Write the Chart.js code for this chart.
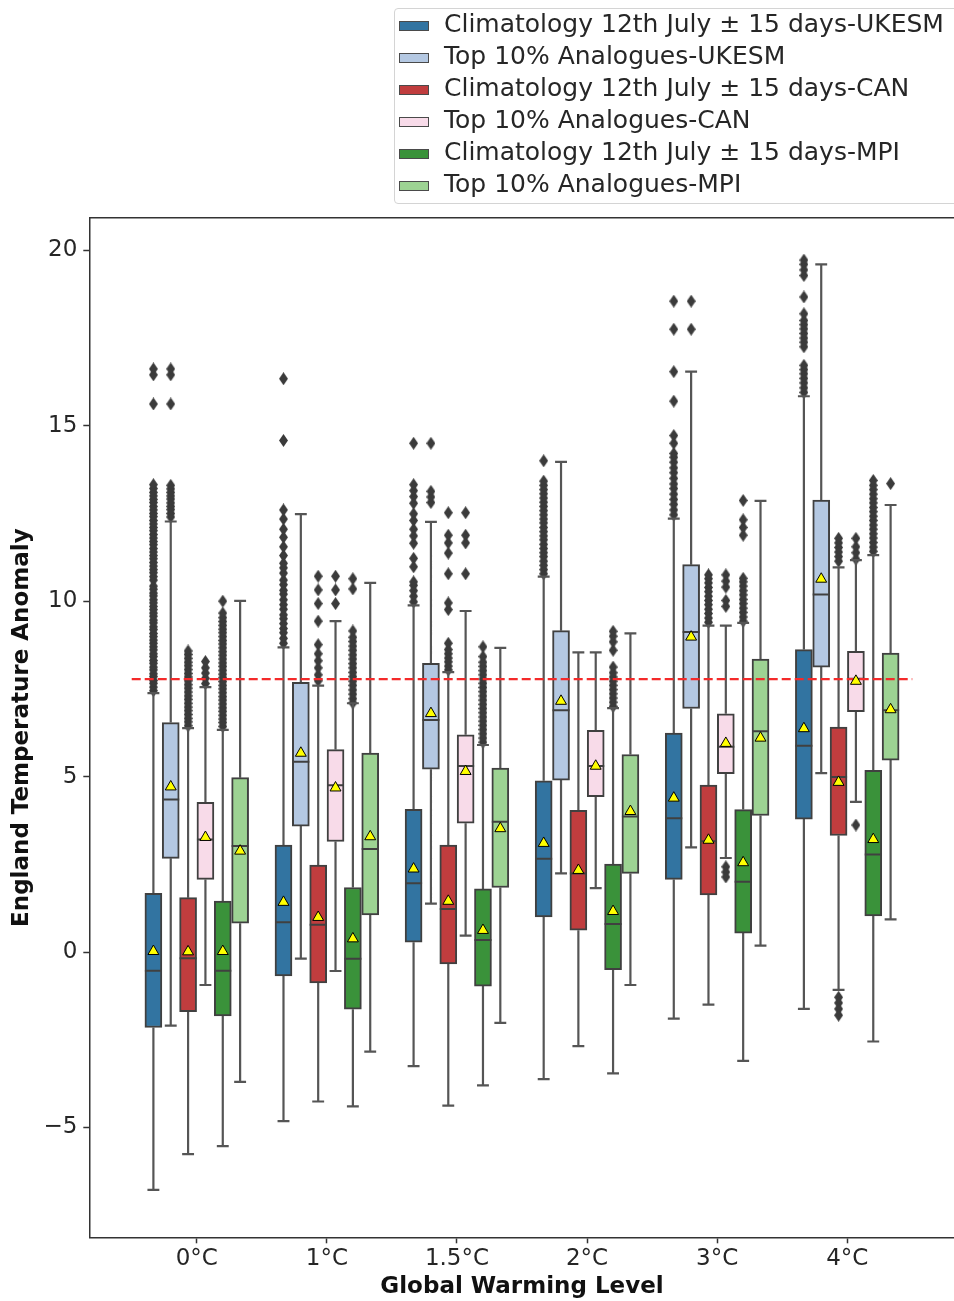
<!DOCTYPE html>
<html>
<head>
<meta charset="utf-8">
<script src="https://cdn.jsdelivr.net/npm/chart.js@4.4.1/dist/chart.umd.min.js"></script>
<style>
html, body { margin: 0; padding: 0; background: #fff; overflow: hidden; }
#wrap { position: relative; width: 962px; height: 1301px; }
#legend { position: absolute; left: 394px; top: 8px; width: 580px; height: 196px; box-sizing: border-box;
  border: 1px solid #d4d4d4; border-radius: 4px; background: #fff;
  font-family: "DejaVu Sans"; font-size: 25px; color: #262626; }
.row { position: absolute; left: 0; height: 32px; line-height: 32px; white-space: nowrap; }
.patch { position: absolute; left: 4px; top: 13px; width: 30px; height: 10px; box-sizing: border-box; border: 1px solid #4a4a4a; }
.lab { position: absolute; left: 49px; top: 0; }
</style>
</head>
<body>
<div id="wrap">
  <canvas id="chart" width="962" height="1301"></canvas>
  <div id="legend"></div>
</div>
<script>
// categories and series
var groups = ['0°C', '1°C', '1.5°C', '2°C', '3°C', '4°C'];
var seriesNames = [
    'Climatology 12th July \u00b1 15 days-UKESM',
    'Top 10% Analogues-UKESM',
    'Climatology 12th July \u00b1 15 days-CAN',
    'Top 10% Analogues-CAN',
    'Climatology 12th July \u00b1 15 days-MPI',
    'Top 10% Analogues-MPI'
];
var seriesColors = ['#3274a1', '#b4c8e2', '#c03d3e', '#f8dbe9', '#3a923a', '#9dd393'];
var yTicks = [-5, 0, 5, 10, 15, 20];
var threshold = 7.78;

// box stats, one row per series, one value per warming level
var whiskerLow = [
    [-6.78, -4.82, -3.25, -3.62, -1.90, -1.62],
    [-2.10, -0.19, 1.38, 2.24, 2.98, 5.10],
    [-5.76, -4.26, -4.38, -2.68, -1.50, -1.08],
    [-0.94, -0.54, 0.47, 1.82, 2.68, 4.28],
    [-5.53, -4.40, -3.80, -3.46, -3.10, -2.55],
    [-3.70, -2.84, -2.02, -0.94, 0.18, 0.93]
];
var q1 = [
    [-2.15, -0.68, 0.28, 1.00, 2.07, 3.79],
    [2.67, 3.59, 5.21, 4.90, 6.94, 8.12],
    [-1.70, -0.88, -0.34, 0.62, 1.63, 3.32],
    [2.07, 3.15, 3.67, 4.43, 5.08, 6.85],
    [-1.82, -1.63, -0.97, -0.50, 0.54, 1.03],
    [0.82, 1.06, 1.84, 2.24, 3.89, 5.47]
];
var median = [
    [-0.53, 0.85, 1.96, 2.66, 3.81, 5.88],
    [4.35, 5.42, 6.61, 6.89, 9.12, 10.19],
    [-0.18, 0.78, 1.23, 2.24, 3.16, 4.99],
    [3.21, 4.75, 5.30, 5.30, 5.85, 7.79],
    [-0.53, -0.19, 0.34, 0.80, 2.00, 2.78],
    [3.02, 2.94, 3.71, 3.86, 6.29, 6.89]
];
var q3 = [
    [1.67, 3.05, 4.07, 4.88, 6.24, 8.62],
    [6.54, 7.69, 8.23, 9.16, 11.04, 12.88],
    [1.55, 2.48, 3.05, 4.04, 4.76, 6.41],
    [4.27, 5.77, 6.19, 6.32, 6.79, 8.57],
    [1.45, 1.84, 1.80, 2.51, 4.06, 5.18],
    [4.97, 5.67, 5.24, 5.63, 8.35, 8.52]
];
var whiskerHigh = [
    [7.38, 8.68, 9.88, 10.70, 12.35, 15.84],
    [12.27, 12.48, 12.26, 13.97, 16.54, 19.60],
    [6.38, 7.59, 7.98, 8.54, 9.30, 10.96],
    [7.55, 9.43, 9.72, 8.54, 9.30, 11.17],
    [6.33, 7.09, 5.90, 6.95, 9.38, 11.31],
    [10.01, 10.52, 8.67, 9.08, 12.86, 12.74]
];
var means = [
    [0.02, 1.42, 2.37, 3.10, 4.39, 6.37],
    [4.71, 5.67, 6.80, 7.15, 8.98, 10.63],
    [0.01, 0.99, 1.45, 2.33, 3.19, 4.84],
    [3.27, 4.68, 5.15, 5.30, 5.95, 7.72],
    [0.02, 0.38, 0.62, 1.16, 2.55, 3.21],
    [2.88, 3.29, 3.52, 4.01, 6.10, 6.91]
];

// outliers, per series and warming level
var outliers = [
    [
        [7.45, 7.55, 7.66, 7.74, 7.85, 7.93, 8.04, 8.12, 8.23, 8.31, 8.42, 8.5, 8.61, 8.7, 8.8, 8.89, 8.99, 9.08, 9.19, 9.27, 9.38, 9.46, 9.57, 9.66, 9.76, 9.85, 9.95, 10.04, 10.15, 10.23, 10.34, 10.43, 10.6, 10.7, 10.81, 10.9, 11.0, 11.1, 11.21, 11.3, 11.4, 11.5, 11.61, 11.7, 11.8, 11.9, 12.01, 12.1, 12.2, 12.3, 12.41, 12.5, 12.6, 12.7, 12.81, 12.9, 13.0, 13.1, 13.21, 13.32, 15.62, 16.45, 16.62],
        [8.8, 8.94, 9.1, 9.22, 9.36, 9.5, 9.61, 9.77, 9.9, 10.04, 10.2, 10.31, 10.47, 10.6, 10.8, 10.95, 11.08, 11.3, 11.55, 11.82, 12.05, 12.34, 12.6, 14.58, 16.34],
        [9.98, 10.14, 10.3, 10.45, 10.55, 10.98, 11.22, 11.65, 11.86, 12.05, 12.3, 12.49, 12.79, 12.98, 13.15, 13.32, 14.5],
        [10.78, 10.9, 11.02, 11.14, 11.27, 11.38, 11.5, 11.62, 11.75, 11.86, 11.98, 12.1, 12.23, 12.34, 12.46, 12.58, 12.7, 12.82, 12.94, 13.06, 13.18, 13.3, 13.42, 14.0],
        [12.46, 12.6, 12.76, 12.9, 13.05, 13.21, 13.34, 13.5, 13.66, 13.8, 13.96, 14.1, 14.21, 14.5, 14.72, 15.7, 16.54, 17.75, 18.55],
        [15.95, 16.08, 16.22, 16.35, 16.48, 16.6, 16.72, 17.25, 17.38, 17.5, 17.63, 17.76, 17.88, 18.0, 18.19, 18.67, 19.28, 19.44, 19.6, 19.72]
    ],
    [
        [12.4, 12.5, 12.61, 12.7, 12.8, 12.91, 13.0, 13.1, 13.2, 13.3, 15.62, 16.45, 16.62],
        [],
        [12.81, 12.97, 13.13, 14.5],
        [],
        [17.75, 18.55],
        []
    ],
    [
        [6.45, 6.56, 6.66, 6.77, 6.88, 6.98, 7.09, 7.2, 7.3, 7.41, 7.52, 7.62, 7.73, 7.84, 7.94, 8.05, 8.16, 8.26, 8.37, 8.48, 8.58],
        [7.73, 7.9, 8.1, 8.3, 8.5, 8.76, 9.43, 9.93, 10.32, 10.71],
        [8.04, 8.15, 8.27, 8.38, 8.5, 8.62, 8.8, 9.76, 9.95, 10.78, 11.37, 11.66, 11.88, 12.52],
        [],
        [9.4, 9.52, 9.65, 9.77, 9.9, 10.02, 10.14, 10.27, 10.39, 10.52, 10.64, 10.75],
        [11.14, 11.27, 11.4, 11.53, 11.66, 11.79, -1.29, -1.45, -1.62, -1.8]
    ],
    [
        [7.65, 7.8, 7.95, 8.1, 8.28],
        [9.93, 10.32, 10.71],
        [10.78, 11.66, 11.88, 12.52],
        [],
        [9.85, 10.02, 10.4, 10.57, 10.75, 2.43, 2.28, 2.14],
        [11.2, 11.38, 11.55, 11.79, 3.62]
    ],
    [
        [6.43, 6.54, 6.64, 6.75, 6.86, 6.96, 7.07, 7.18, 7.28, 7.39, 7.5, 7.6, 7.71, 7.82, 7.92, 8.03, 8.14, 8.24, 8.35, 8.46, 8.56, 8.67, 8.78, 8.88, 8.99, 9.1, 9.2, 9.31, 9.42, 9.53, 9.66, 10.0],
        [7.1, 7.22, 7.35, 7.47, 7.6, 7.72, 7.85, 7.97, 8.1, 8.22, 8.35, 8.47, 8.6, 8.72, 8.85, 8.97, 9.15, 10.35, 10.64],
        [5.98, 6.1, 6.22, 6.34, 6.46, 6.58, 6.7, 6.82, 6.94, 7.06, 7.18, 7.3, 7.42, 7.54, 7.66, 7.78, 7.9, 8.02, 8.14, 8.26, 8.42, 8.7],
        [7.0, 7.12, 7.24, 7.36, 7.48, 7.6, 7.72, 7.84, 7.96, 8.12, 8.6, 8.84, 9.0, 9.14],
        [9.43, 9.55, 9.68, 9.8, 9.93, 10.05, 10.18, 10.3, 10.43, 10.55, 10.65, 11.88, 12.1, 12.32, 12.87],
        [11.42, 11.54, 11.67, 11.8, 11.92, 12.05, 12.17, 12.3, 12.42, 12.55, 12.67, 12.8, 12.92, 13.05, 13.18, 13.3, 13.44]
    ],
    [
        [], [], [], [], [], [13.35]
    ]
];

// layout of the boxes inside a group
var hueStep = 0.8 / 6;
var boxHalf = hueStep * 0.98 / 2;
var capHalf = boxHalf * 0.7;
function xPos(i, h) {
    return i + (h - 2.5) * hueStep;
}

// legend
var legend = document.getElementById('legend');
seriesNames.forEach(function (name, h) {
    var row = document.createElement('div');
    row.className = 'row';
    row.style.top = (-1 + 32 * h) + 'px';
    row.innerHTML = '<div class="patch" style="background:' + seriesColors[h] + '"></div><div class="lab">' + name + '</div>';
    legend.appendChild(row);
});

// flier marker (thin diamond)
function diamond(w, hgt, color) {
    var c = document.createElement('canvas');
    c.width = w;
    c.height = hgt;
    var g = c.getContext('2d');
    g.fillStyle = color;
    g.beginPath();
    g.moveTo(w / 2, 0);
    g.lineTo(w, hgt / 2);
    g.lineTo(w / 2, hgt);
    g.lineTo(0, hgt / 2);
    g.closePath();
    g.fill();
    return c;
}
var flierMark = diamond(9, 13, '#3b3b3b');

// datasets
var datasets = [];
var whiskerPts = [];
var medianPts = [];
var meanPts = [];
var flierPts = [];
var gap = function (x) { return { x: x, y: null }; };

for (var h = 0; h < seriesNames.length; h++) {
    datasets.push({
        type: 'bar',
        label: seriesNames[h],
        data: groups.map(function (g, i) { return { x: xPos(i, h), y: [q1[h][i], q3[h][i]] }; }),
        backgroundColor: seriesColors[h],
        borderColor: '#404040',
        borderWidth: 2,
        borderSkipped: false,
        barThickness: 17,
        grouped: false,
        order: 2
    });
    for (var i = 0; i < groups.length; i++) {
        var x = xPos(i, h);
        whiskerPts.push({ x: x, y: q3[h][i] }, { x: x, y: whiskerHigh[h][i] }, gap(x));
        whiskerPts.push({ x: x, y: q1[h][i] }, { x: x, y: whiskerLow[h][i] }, gap(x));
        whiskerPts.push({ x: x - capHalf, y: whiskerHigh[h][i] }, { x: x + capHalf, y: whiskerHigh[h][i] }, gap(x));
        whiskerPts.push({ x: x - capHalf, y: whiskerLow[h][i] }, { x: x + capHalf, y: whiskerLow[h][i] }, gap(x));
        medianPts.push({ x: x - boxHalf, y: median[h][i] }, { x: x + boxHalf, y: median[h][i] }, gap(x));
        meanPts.push({ x: x, y: means[h][i] });
        outliers[h][i].forEach(function (v) { flierPts.push({ x: x, y: v }); });
    }
}

datasets.push({
    type: 'line', data: whiskerPts, borderColor: '#555555', borderWidth: 2.2,
    pointRadius: 0, spanGaps: false, fill: false, order: 3
});
datasets.push({
    type: 'scatter', data: flierPts, pointStyle: flierMark, pointRadius: 4, order: 3
});
datasets.push({
    type: 'line', data: medianPts, borderColor: '#404040', borderWidth: 2,
    pointRadius: 0, spanGaps: false, fill: false, order: 1
});
datasets.push({
    type: 'line', data: [{ x: -0.5, y: threshold }, { x: 5.5, y: threshold }],
    borderColor: '#f42a2a', borderWidth: 2.2, borderDash: [9, 4], pointRadius: 0, fill: false, order: 0.5
});
datasets.push({
    type: 'scatter', data: meanPts, pointStyle: 'triangle', pointRadius: 6.3,
    backgroundColor: '#ffff00', borderColor: '#000000', borderWidth: 1, order: 0
});

var tickFont = { family: 'DejaVu Sans', size: 23 };
var titleFont = { family: 'DejaVu Sans', size: 23, weight: 'bold' };

var chart = new Chart(document.getElementById('chart'), {
    type: 'scatter',
    data: { datasets: datasets },
    options: {
        responsive: false,
        animation: false,
        events: [],
        layout: { padding: { top: 218, left: 0, right: 1.3, bottom: 0 } },
        plugins: { legend: { display: false }, tooltip: { enabled: false } },
        scales: {
            x: {
                type: 'linear', min: -0.826, max: 5.826, offset: false,
                afterBuildTicks: function (s) { s.ticks = groups.map(function (g, i) { return { value: i }; }); },
                afterFit: function (s) { s.height = 63.7; },
                ticks: { callback: function (v) { return groups[v]; }, font: tickFont, color: '#262626', padding: 2, maxRotation: 0, autoSkip: false },
                grid: { drawOnChartArea: false, drawTicks: true, tickLength: 6, tickColor: '#333', tickWidth: 1.5, offset: false },
                border: { display: true, color: '#333', width: 1.5 },
                title: { display: true, text: 'Global Warming Level', font: titleFont, color: '#111', padding: { top: 0, bottom: 0 } }
            },
            xTop: {
                type: 'linear', position: 'top', min: -0.826, max: 5.826, offset: false,
                afterFit: function (s) { s.height = 0; },
                ticks: { display: false },
                grid: { drawOnChartArea: false, drawTicks: false },
                border: { display: true, color: '#333', width: 1.5 }
            },
            y: {
                type: 'linear', min: -8.13, max: 20.92,
                afterBuildTicks: function (s) { s.ticks = yTicks.map(function (v) { return { value: v }; }); },
                afterFit: function (s) { s.width = 89.3; },
                ticks: { callback: function (v) { return v < 0 ? '\u2212' + Math.abs(v) : String(v); }, font: tickFont, color: '#262626', padding: 6 },
                grid: { drawOnChartArea: false, drawTicks: true, tickLength: 6, tickColor: '#333', tickWidth: 1.5 },
                border: { display: true, color: '#333', width: 1.5 },
                title: { display: true, text: 'England Temperature Anomaly', font: titleFont, color: '#111', padding: { top: 8, bottom: 0 } }
            }
        }
    }
});
</script>
</body>
</html>
